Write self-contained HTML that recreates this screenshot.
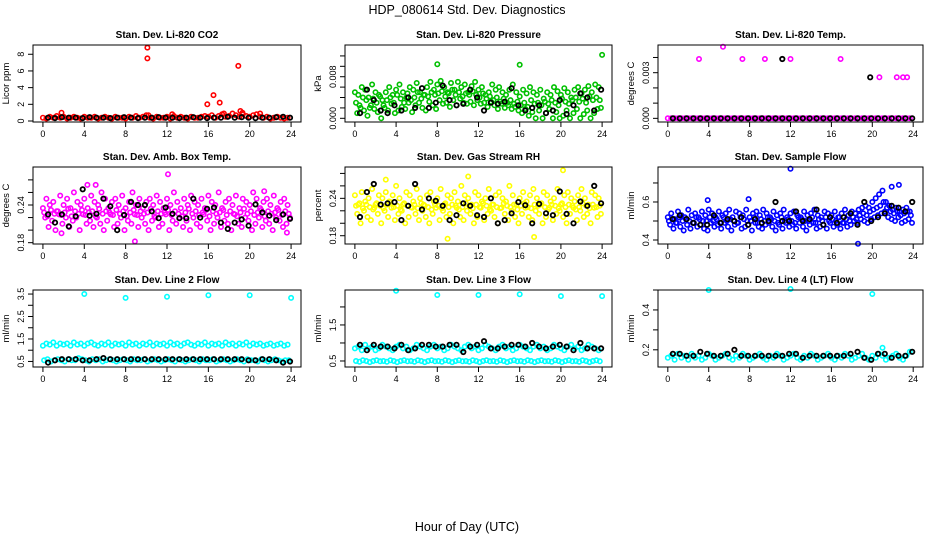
<!DOCTYPE html>
<html><head><meta charset="utf-8"><title>HDP_080614 Std. Dev. Diagnostics</title>
<style>html,body{margin:0;padding:0;background:#fff}svg{display:block;font-family:"Liberation Sans",Arial,sans-serif}</style>
</head><body>
<svg id="chart" width="936" height="540" viewBox="0 0 936 540" xmlns="http://www.w3.org/2000/svg">
<text x="467" y="14" text-anchor="middle" font-size="12.5">HDP_080614  Std. Dev. Diagnostics</text>
<text x="467" y="531" text-anchor="middle" font-size="12.5">Hour of Day (UTC)</text>
</svg>
<script>
// ---- data ----
const xTicks = [0,4,8,12,16,20,24];
// Panel 1: CO2 (ppm)
const co2Color = [0.4,0.3,0.5,0.4,0.6,0.4,0.5,0.3,0.4,0.5,0.4,0.3,0.5,0.4,0.4,0.5,0.3,0.4,0.5,0.4,0.3,0.5,0.4,0.4,0.3,0.5,0.4,0.6,0.4,0.5,0.7,0.4,0.3,0.5,0.4,0.4,0.5,0.3,0.6,0.4,0.5,0.4,0.3,0.5,0.4,0.4,0.5,0.6,0.5,0.7,0.4,0.6,0.8,0.5,0.6,0.9,0.7,0.5,0.8,0.6,0.5,0.7,0.8,0.5,0.4,0.5,0.3,0.4,0.5,0.4,0.3,0.4];
const co2Black = [0.4,0.35,0.45,0.4,0.4,0.35,0.45,0.4,0.4,0.35,0.4,0.45,0.4,0.35,0.4,0.4,0.45,0.4,0.4,0.35,0.4,0.45,0.4,0.35,0.4,0.4,0.5,0.4,0.45,0.4,0.35,0.4,0.4,0.45,0.5,0.4];
const co2OutHours = [10.1,10.1,1.8,15.9,16.5,17.1,18.9,19.1,19.3,21.0,17.5,12.5,10.2];
const co2OutVals = [8.8,7.5,1.0,2.0,3.1,2.2,6.6,1.2,1.0,0.9,0.9,0.8,0.7];
// Panel 2: pressure (x0.001 kPa)
const presHigh = [5,4.5,6,5.5,4,6.5,5,4.5,3.5,5,6,4.5,5.5,6.5,5,4,6,5.5,6.8,5,4.5,6,7,5.5,6.5,7.2,6,5,6.8,5.5,7,6,6.5,5,6.2,7,5.5,6,4.5,5,6.5,5.5,6,5,4.5,5.5,6.5,5,4.2,5.5,4.8,6,5,4.5,5.5,3.8,5,4.5,6,5.2,4.5,5.8,5,4,5.5,6,4.8,5.5,6.2,5,6.5,6];
const presMid = [3,2.5,4,3.5,2,3.8,3,4.2,2.5,3.5,4,3,4.5,3.8,3,4.8,3.5,4,5,3.8,4.5,4.2,5,4.5,4.8,5.2,4.2,4.8,5.5,4.5,5,4.2,4.8,4.5,5.2,4.5,4,4.8,3.8,4.2,3.5,4,3.2,3.8,3,3.5,2.8,3.2,2.5,3,2.2,3.5,2.8,3,2.5,3.2,2.8,3.5,3,2.5,3.8,3.2,2.8,3.5,4,3.2,3.8,3,4.2,3.5,4,3.5];
const presLow = [1,2,1.5,0.5,2.5,1.8,1.2,0,2,1.5,2.8,1,1.5,2.2,1.8,3,1.2,2.5,3,2,1.5,3.2,2.5,1.8,3.5,2.8,3,2.2,3.5,2.5,3.8,3,2.8,3.2,2.5,3.5,2.8,3,2.2,3.2,2.5,1.8,2.8,2,2.5,1.8,2.2,1.5,1,1.8,0.5,1.2,0,1.5,0,1,1.8,0,1.2,0,0.5,1.5,0,1,1.8,0,0.8,1.5,0,1,1.8,2];
const presBlack = [1,5.5,3.5,1.5,1,2.5,1.5,4,2,5.8,2,3,6.3,3.5,2.5,2.8,5.5,4,1.5,3,2.8,3.2,5.8,2.5,1.5,2,2.5,1,1.5,3.5,0.8,2.5,4.8,4,1.5,5.5];
const presOutHours = [8.0,16.0,24.0];
const presOutVals = [10.4,10.3,12.2];
// Panel 3: Li-820 temp (x0.001 C)
const tempColor = [0,0,0,0,0,0,0,0,0,0,0,0,0,0,0,0,0,0,0,0,0,0,0,0,0,0,0,0,0,0,0,0,0,0,0,0,0,0,0,0,0,0,0,0,0,0,0,0,0,0,0,0,0,0,0,0,0,0,0,0,0,0,0,0,0,0,0,0,0,0,0,0];
const tempBlack = [0,0,0,0,0,0,0,0,0,0,0,0,0,0,0,0,0,0,0,0,0,0,0,0,0,0,0,0,0,0,0,0,0,0,0,0];
const tempOutHours = [3.05,5.4,7.3,9.5,12.0,16.9,20.7,22.4,23.0,23.4];
const tempOutVals = [3.9,4.7,3.9,3.9,3.9,3.9,2.7,2.7,2.7,2.7];
const tempBlackOutHours = [11.2,19.8];
const tempBlackOutVals = [3.9,2.7];
// Panel 4: amb box temp (C)
const ambHigh = [0.235,0.25,0.24,0.245,0.23,0.255,0.24,0.25,0.235,0.26,0.245,0.24,0.25,0.235,0.255,0.245,0.24,0.26,0.25,0.235,0.245,0.25,0.24,0.255,0.235,0.245,0.26,0.24,0.25,0.235,0.245,0.25,0.24,0.255,0.245,0.235,0.25,0.24,0.26,0.245,0.235,0.25,0.24,0.255,0.245,0.24,0.25,0.235,0.255,0.245,0.24,0.26,0.235,0.245,0.25,0.24,0.255,0.235,0.25,0.245,0.24,0.26,0.25,0.235,0.245,0.25,0.24,0.255,0.235,0.245,0.25,0.24];
const ambMid = [0.228,0.222,0.232,0.226,0.23,0.224,0.228,0.234,0.222,0.23,0.226,0.232,0.224,0.228,0.23,0.222,0.234,0.226,0.23,0.228,0.224,0.232,0.226,0.23,0.222,0.228,0.232,0.224,0.23,0.226,0.228,0.234,0.222,0.23,0.226,0.228,0.232,0.224,0.23,0.226,0.222,0.228,0.234,0.226,0.23,0.224,0.228,0.232,0.222,0.23,0.226,0.228,0.232,0.224,0.23,0.226,0.222,0.228,0.234,0.226,0.23,0.224,0.228,0.232,0.222,0.23,0.226,0.228,0.232,0.224,0.23,0.226];
const ambLow = [0.22,0.205,0.215,0.2,0.225,0.21,0.22,0.205,0.215,0.22,0.2,0.225,0.21,0.215,0.205,0.22,0.21,0.2,0.215,0.225,0.205,0.21,0.22,0.2,0.215,0.21,0.225,0.205,0.22,0.21,0.2,0.215,0.22,0.205,0.21,0.225,0.2,0.215,0.21,0.22,0.205,0.215,0.2,0.22,0.21,0.205,0.225,0.215,0.2,0.21,0.22,0.205,0.215,0.21,0.2,0.225,0.21,0.205,0.22,0.215,0.2,0.21,0.22,0.205,0.215,0.21,0.2,0.22,0.215,0.205,0.21,0.22];
const ambBlack = [0.225,0.212,0.225,0.206,0.222,0.265,0.223,0.226,0.25,0.238,0.2,0.224,0.245,0.24,0.24,0.23,0.219,0.236,0.226,0.219,0.219,0.25,0.22,0.234,0.236,0.212,0.202,0.212,0.217,0.207,0.241,0.228,0.223,0.216,0.225,0.218];
const ambOutHours = [12.1,8.9,4.3,1.8,5.1,21.4,23.6];
const ambOutVals = [0.289,0.182,0.272,0.195,0.272,0.262,0.196];
// Panel 5: gas stream RH (percent)
const rhHigh = [0.245,0.23,0.25,0.235,0.24,0.255,0.23,0.245,0.24,0.25,0.235,0.245,0.26,0.24,0.23,0.25,0.245,0.235,0.255,0.24,0.23,0.245,0.25,0.235,0.24,0.255,0.23,0.245,0.24,0.25,0.235,0.26,0.245,0.24,0.23,0.25,0.245,0.235,0.24,0.255,0.23,0.245,0.25,0.24,0.235,0.26,0.245,0.23,0.24,0.25,0.235,0.245,0.255,0.24,0.23,0.25,0.245,0.235,0.24,0.255,0.23,0.245,0.25,0.24,0.235,0.245,0.255,0.24,0.23,0.25,0.245,0.24];
const rhMid = [0.228,0.232,0.224,0.23,0.226,0.222,0.232,0.228,0.224,0.23,0.234,0.226,0.228,0.222,0.232,0.228,0.226,0.23,0.224,0.232,0.228,0.226,0.222,0.23,0.228,0.224,0.232,0.226,0.23,0.228,0.222,0.226,0.232,0.228,0.224,0.23,0.226,0.232,0.228,0.222,0.23,0.226,0.224,0.232,0.228,0.226,0.23,0.222,0.228,0.232,0.226,0.224,0.23,0.228,0.232,0.226,0.222,0.23,0.228,0.224,0.232,0.226,0.23,0.228,0.222,0.226,0.232,0.228,0.224,0.23,0.226,0.228];
const rhLow = [0.215,0.2,0.22,0.21,0.205,0.225,0.215,0.2,0.22,0.21,0.225,0.205,0.215,0.22,0.2,0.21,0.225,0.215,0.205,0.22,0.21,0.2,0.215,0.225,0.205,0.22,0.21,0.215,0.2,0.225,0.21,0.205,0.22,0.215,0.2,0.21,0.225,0.205,0.215,0.22,0.21,0.2,0.225,0.215,0.205,0.22,0.21,0.2,0.215,0.225,0.21,0.205,0.22,0.215,0.2,0.21,0.225,0.205,0.215,0.22,0.21,0.2,0.215,0.225,0.205,0.22,0.21,0.215,0.2,0.225,0.21,0.215];
const rhBlack = [0.21,0.25,0.263,0.23,0.232,0.234,0.205,0.228,0.263,0.222,0.24,0.236,0.228,0.205,0.213,0.232,0.228,0.213,0.21,0.24,0.2,0.205,0.216,0.234,0.229,0.2,0.231,0.216,0.213,0.251,0.215,0.2,0.235,0.228,0.26,0.232];
const rhOutHours = [20.2,9.0,17.4,11.0,3.0];
const rhOutVals = [0.285,0.175,0.178,0.275,0.27];
// Panel 6: sample flow (l/min)
const flowHigh = [0.52,0.54,0.51,0.55,0.53,0.52,0.56,0.53,0.54,0.52,0.55,0.53,0.56,0.54,0.52,0.55,0.53,0.54,0.56,0.52,0.55,0.54,0.53,0.56,0.52,0.54,0.55,0.53,0.56,0.54,0.52,0.55,0.53,0.54,0.56,0.52,0.54,0.55,0.53,0.52,0.55,0.53,0.54,0.56,0.53,0.52,0.55,0.54,0.53,0.55,0.52,0.54,0.56,0.53,0.55,0.54,0.56,0.57,0.58,0.57,0.6,0.62,0.64,0.66,0.6,0.58,0.56,0.57,0.55,0.56,0.57,0.55];
const flowMid = [0.5,0.51,0.49,0.52,0.5,0.51,0.5,0.49,0.52,0.51,0.5,0.5,0.52,0.5,0.51,0.49,0.52,0.5,0.51,0.5,0.49,0.52,0.51,0.5,0.5,0.52,0.49,0.51,0.5,0.52,0.51,0.5,0.49,0.52,0.5,0.51,0.5,0.49,0.52,0.51,0.5,0.5,0.52,0.49,0.51,0.5,0.52,0.5,0.51,0.5,0.52,0.49,0.51,0.5,0.52,0.51,0.53,0.54,0.53,0.55,0.56,0.57,0.58,0.6,0.57,0.55,0.54,0.55,0.53,0.54,0.55,0.53];
const flowLow = [0.48,0.46,0.49,0.47,0.45,0.48,0.46,0.49,0.47,0.48,0.46,0.45,0.49,0.47,0.48,0.46,0.49,0.47,0.45,0.48,0.49,0.46,0.47,0.48,0.45,0.49,0.47,0.46,0.48,0.49,0.47,0.45,0.48,0.46,0.49,0.47,0.48,0.46,0.49,0.47,0.45,0.48,0.49,0.46,0.47,0.48,0.46,0.49,0.47,0.48,0.46,0.49,0.47,0.48,0.5,0.49,0.51,0.5,0.49,0.51,0.52,0.53,0.54,0.55,0.52,0.51,0.5,0.52,0.49,0.5,0.51,0.49];
const flowBlack = [0.51,0.53,0.51,0.49,0.48,0.48,0.53,0.49,0.51,0.5,0.52,0.48,0.51,0.49,0.5,0.6,0.5,0.5,0.55,0.5,0.51,0.56,0.48,0.52,0.49,0.52,0.54,0.48,0.6,0.5,0.52,0.54,0.58,0.57,0.55,0.6];
const flowOutHours = [12.0,3.9,7.9,21.9,22.6,18.6];
const flowOutVals = [0.775,0.61,0.615,0.68,0.69,0.38];
// Panel 7: line 2 flow (l/min)
const l2High = [1.2,1.3,1.25,1.35,1.2,1.3,1.25,1.3,1.2,1.35,1.25,1.3,1.2,1.3,1.35,1.25,1.2,1.3,1.25,1.35,1.2,1.3,1.25,1.3,1.2,1.35,1.25,1.3,1.2,1.3,1.25,1.35,1.2,1.3,1.25,1.3,1.2,1.35,1.25,1.3,1.2,1.3,1.35,1.25,1.2,1.3,1.25,1.35,1.2,1.3,1.25,1.3,1.2,1.35,1.25,1.3,1.2,1.3,1.25,1.35,1.2,1.3,1.25,1.3,1.2,1.25,1.3,1.2,1.25,1.3,1.2,1.25];
const l2Low = [0.55,0.6,0.5,0.55,0.6,0.55,0.5,0.6,0.55,0.55,0.65,0.6,0.55,0.5,0.6,0.55,0.6,0.5,0.55,0.6,0.55,0.5,0.55,0.6,0.55,0.5,0.6,0.55,0.55,0.6,0.5,0.55,0.6,0.55,0.5,0.55,0.6,0.55,0.5,0.6,0.55,0.5,0.55,0.6,0.55,0.5,0.6,0.55,0.55,0.6,0.5,0.55,0.6,0.55,0.5,0.55,0.6,0.55,0.5,0.6,0.55,0.55,0.5,0.6,0.55,0.5,0.55,0.6,0.55,0.5,0.55,0.55];
const l2Black = [0.45,0.55,0.6,0.6,0.6,0.55,0.55,0.6,0.65,0.6,0.6,0.6,0.6,0.6,0.6,0.6,0.6,0.6,0.6,0.6,0.6,0.6,0.6,0.6,0.6,0.6,0.6,0.6,0.6,0.55,0.55,0.6,0.6,0.55,0.45,0.5];
const l2OutHours = [4.0,8.0,12.0,16.0,20.0,24.0];
const l2OutVals = [3.5,3.33,3.38,3.45,3.45,3.33];
// Panel 8: line 3 flow (l/min)
const l3High = [0.85,0.9,0.8,0.95,0.85,0.9,0.8,0.85,0.95,0.9,0.85,0.8,0.9,0.95,0.85,0.9,0.8,0.85,0.95,0.9,0.85,0.8,0.9,0.95,0.85,0.9,0.8,0.85,0.95,0.9,0.85,0.8,0.9,0.95,0.85,0.9,0.8,0.85,0.95,0.9,0.85,0.8,0.9,0.95,0.85,0.9,0.8,0.85,0.95,0.9,0.85,0.8,0.9,0.95,0.85,0.9,0.8,0.85,0.95,0.9,0.85,0.8,0.9,0.95,0.85,0.9,0.8,0.85,0.95,0.9,0.85,0.8];
const l3Low = [0.5,0.48,0.52,0.5,0.47,0.5,0.52,0.49,0.5,0.48,0.52,0.5,0.47,0.5,0.52,0.49,0.5,0.48,0.52,0.5,0.47,0.5,0.52,0.49,0.5,0.48,0.52,0.5,0.47,0.5,0.52,0.49,0.5,0.48,0.52,0.5,0.47,0.5,0.52,0.49,0.5,0.48,0.52,0.5,0.47,0.5,0.52,0.49,0.5,0.48,0.52,0.5,0.47,0.5,0.52,0.49,0.5,0.48,0.52,0.5,0.47,0.5,0.52,0.49,0.5,0.48,0.52,0.5,0.47,0.5,0.52,0.49];
const l3Black = [0.95,0.8,0.95,0.9,0.9,0.85,0.95,0.8,0.85,0.95,0.95,0.9,0.9,0.95,0.95,0.75,0.9,0.95,1.05,0.85,0.85,0.9,0.95,0.95,0.9,1.0,0.9,0.85,0.9,0.95,0.9,0.8,1.0,0.85,0.85,0.85];
const l3OutHours = [4.0,8.0,12.0,16.0,20.0,24.0];
const l3OutVals = [2.45,2.33,2.33,2.35,2.3,2.3];
// Panel 9: line 4 (LT) flow (l/min)
const l4Color = [0.16,0.17,0.15,0.18,0.16,0.17,0.15,0.18,0.16,0.17,0.15,0.16,0.18,0.17,0.15,0.16,0.17,0.18,0.16,0.15,0.17,0.16,0.18,0.17,0.15,0.16,0.17,0.18,0.16,0.15,0.17,0.16,0.18,0.17,0.15,0.16,0.17,0.18,0.16,0.15,0.17,0.16,0.18,0.17,0.15,0.16,0.17,0.18,0.16,0.15,0.17,0.16,0.18,0.17,0.15,0.16,0.17,0.18,0.16,0.15,0.17,0.16,0.18,0.17,0.15,0.16,0.17,0.18,0.16,0.15,0.17,0.19];
const l4Black = [0.18,0.18,0.17,0.17,0.19,0.18,0.17,0.17,0.18,0.2,0.17,0.17,0.17,0.17,0.17,0.17,0.17,0.18,0.18,0.16,0.17,0.17,0.17,0.17,0.17,0.17,0.18,0.19,0.16,0.15,0.18,0.18,0.16,0.17,0.17,0.19];
const l4OutHours = [4.0,12.0,20.0,21.0];
const l4OutVals = [0.5,0.505,0.48,0.21];

// ---- rendering ----
const NS = "http://www.w3.org/2000/svg";
const svg = document.getElementById("chart");
function mk(tag, attrs, parent){const e=document.createElementNS(NS,tag);for(const k in attrs)e.setAttribute(k,attrs[k]);(parent||svg).appendChild(e);return e;}
const cols=[[33,301],[345,612],[658,923]];
const rows=[[45,122],[167,244],[290,367]];
const X0=-0.96,X1=24.96;

function panel(o){
  const [l,r]=cols[o.c],[t,b]=rows[o.r];
  const g=mk("g",{});
  
  
  const xs=h=>l+(h-X0)/(X1-X0)*(r-l);
  const ys=v=>b-(v-o.y0)/(o.y1-o.y0)*(b-t);
  const title=mk("text",{x:(l+r)/2,y:t-7,"text-anchor":"middle","font-size":"10","font-weight":"bold"},g);
  title.textContent=o.title;
  
  
  const pts=mk("g",{},g);
  
  
  function dot(h,v,col,w){
    const y=ys(v); if(y<t-3||y>b+3)return;
    const c=mk("circle",{cx:xs(h).toFixed(1),cy:y.toFixed(1),r:"2.2",fill:"none",stroke:col,"stroke-width":w},pts);
    
    
  }
  o.color.forEach((arr,k)=>arr.forEach((v,i)=>dot(i*24/arr.length+k*0.11,v,o.col,1.6)));
  (o.outH||[]).forEach((h,i)=>dot(h,o.outV[i],o.col,1.6));
  o.black.forEach((v,i)=>dot(0.5+i*23.4/(o.black.length-1),v,"#000",1.8));
  (o.bOutH||[]).forEach((h,i)=>dot(h,o.bOutV[i],"#000",1.8));
  const fr=mk("rect",{x:l,y:t,width:r-l,height:b-t,fill:"none",stroke:"#000","stroke-width":"1"},g);
  
  
  const xa=mk("g",{},g);
  
  
  xTicks.forEach(v=>{
    mk("line",{x1:xs(v),x2:xs(v),y1:b,y2:b+5,stroke:"#000"},xa);
    const tx=mk("text",{x:xs(v),y:b+15,"text-anchor":"middle","font-size":"9"},xa);
    tx.textContent=v;
    
    
  });
  const ya=mk("g",{},g);
  
  
  o.yt.forEach(v=>{mk("line",{x1:l-5,x2:l,y1:ys(v),y2:ys(v),stroke:"#000"},ya);});
  o.yl.forEach((s,i)=>{
    const y=ys(o.ylv[i]);
    const tx=mk("text",{x:l-9,y:y,"text-anchor":"middle","font-size":"9",transform:`rotate(-90 ${l-9} ${y})`},ya);
    tx.textContent=s;
    
    
  });
  const yt=mk("text",{x:l-24,y:(t+b)/2,"text-anchor":"middle","font-size":"9.5",transform:`rotate(-90 ${l-24} ${(t+b)/2})`},g);
  yt.textContent=o.ytitle;
  
  
}

panel({name:"co2",c:0,r:0,title:"Stan. Dev. Li-820 CO2",ytitle:"Licor ppm",y0:-0.12,y1:9.11,col:"#ff0000",color:[co2Color],black:co2Black,outH:co2OutHours,outV:co2OutVals,yt:[0,2,4,6,8],yl:["0","2","4","6","8"],ylv:[0,2,4,6,8]});
panel({name:"pressure",c:1,r:0,title:"Stan. Dev. Li-820 Pressure",ytitle:"kPa",y0:-0.71,y1:14.1,col:"#00c000",color:[presHigh,presMid,presLow],black:presBlack,outH:presOutHours,outV:presOutVals,yt:[0,2,4,6,8,10,12],yl:["0.000","0.008"],ylv:[0,8]});
panel({name:"li820-temp",c:2,r:0,title:"Stan. Dev. Li-820 Temp.",ytitle:"degrees C",y0:-0.24,y1:4.82,col:"#ff00ff",color:[tempColor],black:tempBlack,outH:tempOutHours,outV:tempOutVals,bOutH:tempBlackOutHours,bOutV:tempBlackOutVals,yt:[0,1,2,3,4],yl:["0.000","0.003"],ylv:[0,3]});
panel({name:"amb-box-temp",c:0,r:1,title:"Stan. Dev. Amb. Box Temp.",ytitle:"degrees C",y0:0.1779,y1:0.3005,col:"#ff00ff",color:[ambHigh,ambMid,ambLow],black:ambBlack,outH:ambOutHours,outV:ambOutVals,yt:[0.18,0.2,0.22,0.24,0.26,0.28],yl:["0.18","0.24"],ylv:[0.18,0.24]});
panel({name:"gas-stream-rh",c:1,r:1,title:"Stan. Dev. Gas Stream RH",ytitle:"percent",y0:0.1667,y1:0.2903,col:"#ffff00",color:[rhHigh,rhMid,rhLow],black:rhBlack,outH:rhOutHours,outV:rhOutVals,yt:[0.18,0.2,0.22,0.24,0.26,0.28],yl:["0.18","0.24"],ylv:[0.18,0.24]});
panel({name:"sample-flow",c:2,r:1,title:"Stan. Dev. Sample Flow",ytitle:"ml/min",y0:0.379,y1:0.784,col:"#0000ff",color:[flowHigh,flowMid,flowLow],black:flowBlack,outH:flowOutHours,outV:flowOutVals,yt:[0.4,0.5,0.6,0.7],yl:["0.4","0.6"],ylv:[0.4,0.6]});
panel({name:"line2-flow",c:0,r:2,title:"Stan. Dev. Line 2 Flow",ytitle:"ml/min",y0:0.253,y1:3.68,col:"#00ffff",color:[l2High,l2Low],black:l2Black,outH:l2OutHours,outV:l2OutVals,yt:[0.5,1,1.5,2,2.5,3,3.5],yl:["0.5","1.5","2.5","3.5"],ylv:[0.5,1.5,2.5,3.5]});
panel({name:"line3-flow",c:1,r:2,title:"Stan. Dev. Line 3 Flow",ytitle:"ml/min",y0:0.333,y1:2.47,col:"#00ffff",color:[l3High,l3Low],black:l3Black,outH:l3OutHours,outV:l3OutVals,yt:[0.5,1,1.5,2],yl:["0.5","1.5"],ylv:[0.5,1.5]});
panel({name:"line4-flow",c:2,r:2,title:"Stan. Dev. Line 4 (LT) Flow",ytitle:"ml/min",y0:0.1138,y1:0.5,col:"#00ffff",color:[l4Color],black:l4Black,outH:l4OutHours,outV:l4OutVals,yt:[0.2,0.3,0.4,0.5],yl:["0.2","0.4"],ylv:[0.2,0.4]});
</script>
</body></html>
